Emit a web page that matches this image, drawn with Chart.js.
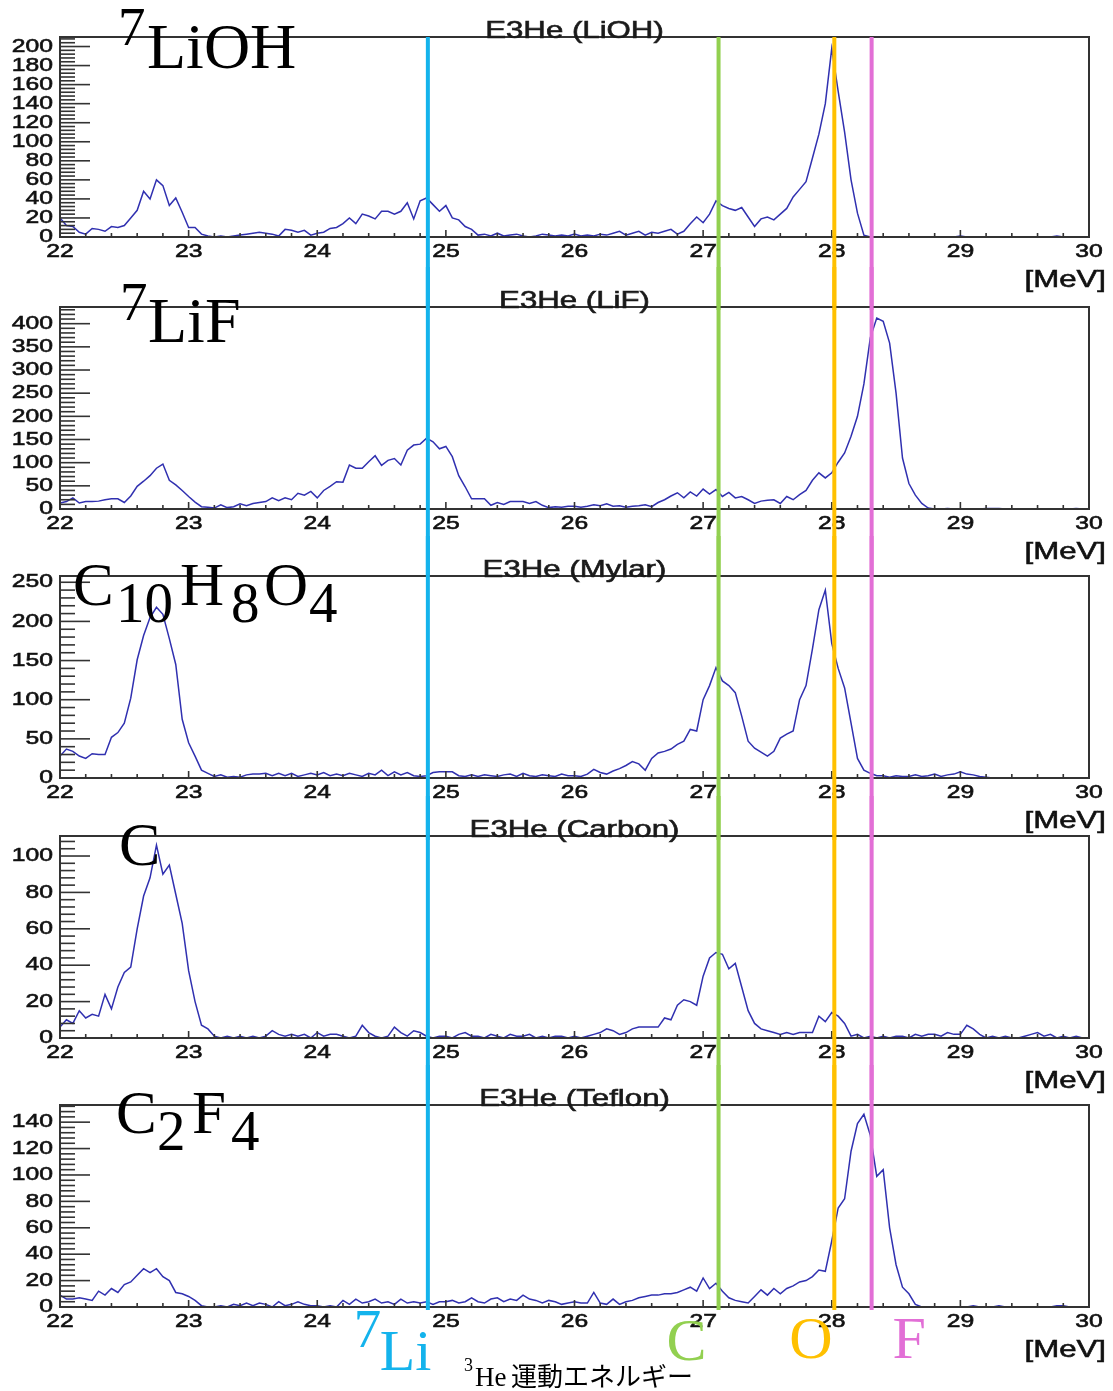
<!DOCTYPE html>
<html>
<head>
<meta charset="utf-8">
<title>E3He spectra</title>
<script src="https://cdn.jsdelivr.net/npm/chart.js@4.4.1/dist/chart.umd.min.js"></script>
<style>
  body { margin: 0; background: #fff; width: 1113px; height: 1391px; position: relative; overflow: hidden; }
  .panel { position: absolute; left: 0; width: 1113px; }
  canvas { display: block; }
</style>
</head>
<body>
<div class="panel" style="top:0px"><canvas id="p0" width="1113" height="310"></canvas></div>
<div class="panel" style="top:267px"><canvas id="p1" width="1113" height="310"></canvas></div>
<div class="panel" style="top:536px"><canvas id="p2" width="1113" height="304"></canvas></div>
<div class="panel" style="top:796px"><canvas id="p3" width="1113" height="304"></canvas></div>
<div class="panel" style="top:1065px"><canvas id="p4" width="1113" height="326"></canvas></div>
<script>
// histogram bins, 0.05 MeV wide, 22 - 30 MeV
const binWidth = 0.05;
const energies = Array.from({ length: 161 }, (_, i) => +(22 + i * binWidth).toFixed(2));

const countsLiOH = [
  20, 12, 11, 5, 3, 9, 8, 6, 11, 10, 12, 20, 28, 48, 40, 60, 54, 33, 41, 26,
  10, 10, 3, 1, 0, 1, 0, 1, 2, 3, 4, 5, 4, 3, 1, 8, 7, 5, 7, 2,
  4, 5, 9, 10, 14, 20, 14, 24, 22, 19, 27, 27, 24, 27, 36, 19, 38, 41, 34, 27,
  33, 20, 18, 11, 8, 2, 3, 1, 4, 1, 2, 3, 1, 0, 1, 3, 2, 1, 2, 1,
  3, 1, 2, 1, 3, 2, 4, 6, 2, 4, 6, 2, 5, 4, 6, 8, 3, 6, 14, 21,
  15, 24, 38, 33, 30, 28, 31, 21, 11, 19, 21, 18, 24, 30, 42, 50, 58, 83, 108, 140,
  198, 153, 110, 60, 25, 2, 0, 0, 0, 0, 0, 0, 0, 0, 0, 0, 0, 0, 0, 0,
  1, 0, 0, 0, 0, 0, 0, 0, 0, 0, 0, 0, 0, 0, 0, 1, 0, 0, 0, 0,
  0
];
const countsLiF = [
  13, 16, 24, 13, 16, 16, 17, 20, 22, 22, 14, 28, 49, 60, 72, 88, 97, 62, 52, 40,
  27, 15, 5, 4, 2, 9, 3, 5, 11, 7, 12, 14, 16, 24, 18, 24, 20, 34, 30, 38,
  24, 40, 49, 59, 58, 95, 88, 88, 102, 115, 94, 105, 109, 95, 127, 138, 140, 153, 145, 130,
  135, 113, 72, 48, 22, 22, 22, 8, 14, 10, 16, 16, 16, 12, 16, 8, 3, 5, 4, 6,
  6, 4, 6, 9, 7, 11, 6, 7, 4, 6, 7, 9, 5, 14, 20, 28, 35, 24, 37, 28,
  43, 32, 42, 27, 36, 24, 27, 20, 12, 17, 19, 20, 12, 27, 20, 31, 40, 62, 78, 67,
  78, 101, 121, 157, 200, 270, 370, 412, 405, 358, 250, 110, 55, 30, 12, 2, 0, 0, 1, 0,
  0, 0, 0, 0, 1, 1, 1, 0, 0, 0, 0, 0, 0, 0, 0, 0, 0, 0, 1, 0,
  0
];
const countsMylar = [
  28, 37, 34, 28, 25, 31, 30, 30, 52, 58, 70, 102, 151, 182, 205, 218, 209, 178, 145, 75,
  45, 28, 10, 6, 2, 4, 1, 2, 1, 4, 5, 5, 6, 3, 6, 3, 6, 2, 4, 6,
  4, 7, 3, 5, 3, 6, 4, 2, 6, 4, 10, 3, 8, 4, 7, 3, 2, 3, 7, 8,
  8, 8, 3, 2, 4, 2, 4, 3, 2, 4, 5, 2, 6, 3, 2, 4, 3, 2, 5, 3,
  3, 2, 5, 11, 7, 5, 9, 12, 16, 21, 18, 10, 25, 32, 34, 37, 43, 47, 62, 60,
  100, 118, 141, 124, 118, 109, 79, 47, 38, 33, 28, 34, 51, 56, 60, 100, 118, 165, 215, 240,
  172, 140, 115, 70, 25, 10, 6, 3, 3, 1, 3, 2, 2, 4, 2, 3, 5, 2, 4, 5,
  8, 5, 4, 2, 1, 0, 0, 0, 0, 0, 0, 0, 0, 0, 0, 0, 0, 0, 0, 0,
  0
];
const countsCarbon = [
  6, 10, 8, 15, 11, 13, 12, 24, 16, 28, 36, 39, 60, 78, 88, 106, 90, 95, 79, 63,
  37, 20, 7, 5, 1, 0, 1, 0, 1, 0, 1, 0, 1, 4, 2, 1, 2, 1, 2, 0,
  3, 1, 2, 2, 1, 0, 1, 7, 3, 1, 0, 1, 6, 3, 1, 4, 3, 1, 0, 1,
  1, 0, 2, 3, 1, 1, 0, 2, 1, 0, 2, 1, 1, 2, 0, 1, 0, 1, 1, 0,
  1, 0, 1, 2, 3, 5, 4, 2, 3, 5, 6, 6, 6, 6, 11, 10, 18, 21, 20, 18,
  34, 44, 47, 46, 38, 41, 28, 15, 8, 5, 4, 3, 2, 3, 2, 3, 3, 3, 12, 9,
  14, 12, 8, 1, 2, 0, 1, 0, 1, 0, 1, 1, 0, 2, 1, 2, 2, 1, 3, 2,
  2, 7, 5, 2, 0, 1, 0, 1, 0, 0, 1, 2, 3, 1, 2, 0, 1, 0, 1, 0,
  0
];
const countsTeflon = [
  9, 6, 6, 7, 6, 5, 12, 9, 14, 11, 17, 19, 24, 29, 26, 29, 23, 20, 11, 10,
  8, 5, 1, 0, 0, 1, 0, 2, 1, 3, 1, 3, 2, 0, 4, 1, 2, 4, 2, 1,
  1, 0, 1, 0, 5, 2, 6, 3, 4, 6, 3, 4, 2, 6, 3, 4, 3, 4, 2, 4,
  4, 5, 3, 4, 7, 4, 3, 6, 7, 4, 6, 5, 9, 6, 5, 3, 5, 4, 2, 3,
  4, 3, 3, 11, 3, 2, 6, 2, 4, 5, 7, 8, 9, 9, 10, 10, 11, 13, 15, 12,
  22, 14, 18, 12, 7, 5, 4, 3, 8, 13, 9, 14, 10, 14, 16, 19, 20, 23, 28, 27,
  50, 75, 82, 118, 139, 146, 130, 99, 104, 60, 32, 15, 10, 2, 0, 0, 0, 0, 0, 0,
  0, 0, 1, 0, 0, 0, 1, 0, 0, 0, 0, 0, 0, 0, 0, 1, 1, 0, 0, 0,
  0
];

const xTicks = [22, 23, 24, 25, 26, 27, 28, 29, 30];
const yTicksLiOH = [0, 20, 40, 60, 80, 100, 120, 140, 160, 180, 200];
const yTicksLiF = [0, 50, 100, 150, 200, 250, 300, 350, 400];
const yTicksMylar = [0, 50, 100, 150, 200, 250];
const yTicksCarbon = [0, 20, 40, 60, 80, 100];
const yTicksTeflon = [0, 20, 40, 60, 80, 100, 120, 140];

// reaction lines: 7Li, C, O, F
const lineEnergies = [24.86, 27.12, 28.02, 28.31];
const lineColors = ['#14b3ec', '#92d050', '#ffc000', '#e26fd6'];

const SERIF = '"Liberation Serif", "Times New Roman", serif';
const SANS = '"Liberation Sans", Arial, sans-serif';
const STRETCH = 1.3; // ROOT text is drawn wide

const panels = [
  { id: 'p0', name: 'LiOH', counts: countsLiOH, yTicks: yTicksLiOH, yMax: 210, padTop: 37, padBottom: 43,
    formula: [['7', 118, 8, 55], ['LiOH', 147, 31, 64]] },
  { id: 'p1', name: 'LiF', counts: countsLiF, yTicks: yTicksLiF, yMax: 436, padTop: 40, padBottom: 38,
    formula: [['7', 120, 13, 55], ['LiF', 148, 35, 64]] },
  { id: 'p2', name: 'Mylar', counts: countsMylar, yTicks: yTicksMylar, yMax: 258, padTop: 40, padBottom: 32,
    formula: [['C', 73, 29, 61], ['10', 116, 46, 57], ['H', 180, 29, 61], ['8', 231, 46, 57], ['O', 264, 29, 61], ['4', 309, 46, 57]] },
  { id: 'p3', name: 'Carbon', counts: countsCarbon, yTicks: yTicksCarbon, yMax: 111, padTop: 40, padBottom: 32,
    formula: [['C', 119, 29, 62]] },
  { id: 'p4', name: 'Teflon', counts: countsTeflon, yTicks: yTicksTeflon, yMax: 153, padTop: 40, padBottom: 54,
    formula: [['C', 116, 28, 61], ['2', 157, 45, 57], ['F', 192, 28, 61], ['4', 231, 45, 57]] }
];

function seg(ctx, x1, y1, x2, y2) {
  ctx.beginPath();
  ctx.moveTo(x1, y1);
  ctx.lineTo(x2, y2);
  ctx.stroke();
}

// sans text, widened and slightly heavier
function wideText(ctx, str, x, y, size, align, baseline, color) {
  ctx.save();
  ctx.font = size + 'px ' + SANS;
  ctx.textAlign = align;
  ctx.textBaseline = baseline;
  ctx.fillStyle = color;
  ctx.strokeStyle = color;
  ctx.lineWidth = 0.6;
  ctx.translate(x, y);
  ctx.scale(STRETCH, 1);
  ctx.fillText(str, 0, 0);
  ctx.strokeText(str, 0, 0);
  ctx.restore();
}

function serifText(ctx, str, x, y, size, color) {
  ctx.font = size + 'px ' + SERIF;
  ctx.fillStyle = color;
  ctx.textAlign = 'left';
  ctx.textBaseline = 'alphabetic';
  ctx.fillText(str, x, y);
}

function overlay(panel, idx) {
  return {
    id: 'overlay' + idx,
    afterDraw(chart) {
      const { ctx, chartArea: a, scales: { x, y } } = chart;
      ctx.save();

      // inner ticks on the x axis
      ctx.strokeStyle = '#333';
      ctx.lineWidth = 1.6;
      xTicks.forEach((v, k) => {
        const px = x.getPixelForValue(v);
        seg(ctx, px, a.bottom, px, a.bottom - 7);
        if (k < xTicks.length - 1) {
          const d = (xTicks[k + 1] - v) / 5;
          for (let m = 1; m < 5; m++) {
            const pm = x.getPixelForValue(v + m * d);
            seg(ctx, pm, a.bottom, pm, a.bottom - 4);
          }
        }
      });

      // inner ticks on the y axis, five divisions per label
      const minor = (panel.yTicks[1] - panel.yTicks[0]) / 5;
      const nMinor = Math.floor(panel.yMax / minor + 1e-6);
      for (let j = 0; j <= nMinor; j++) {
        const py = y.getPixelForValue(j * minor);
        seg(ctx, a.left, py, a.left + (j % 5 === 0 ? 30 : 15), py);
      }

      // frame
      ctx.lineWidth = 2;
      ctx.strokeRect(a.left, a.top, a.right - a.left, a.bottom - a.top);

      // tick labels
      panel.yTicks.forEach(v => wideText(ctx, String(v), a.left - 7, y.getPixelForValue(v), 19, 'right', 'middle', '#111'));
      xTicks.forEach(v => wideText(ctx, String(v), x.getPixelForValue(v), a.bottom + 5, 19, 'center', 'top', '#111'));

      // histogram title and unit
      wideText(ctx, 'E3He (' + panel.name + ')', (a.left + a.right) / 2, a.top + 1, 24, 'center', 'alphabetic', '#1a1a1a');
      wideText(ctx, '[MeV]', 1106, a.bottom + 50, 24, 'right', 'alphabetic', '#111');

      // target formula
      panel.formula.forEach(([t, fx, dy, size]) => serifText(ctx, t, fx, a.top + dy, size, '#000'));

      // reaction lines running through all panels
      const yFrom = idx === 0 ? a.top : 0;
      const yTo = idx === panels.length - 1 ? a.bottom + 3 : chart.height;
      ctx.lineWidth = 4;
      lineEnergies.forEach((e, k) => {
        const px = x.getPixelForValue(e);
        ctx.strokeStyle = lineColors[k];
        seg(ctx, px, yFrom, px, yTo);
      });

      if (idx === panels.length - 1) {
        const lx = lineEnergies.map(e => x.getPixelForValue(e));
        const b = a.bottom;
        serifText(ctx, '7', lx[0] - 74, b + 40, 55, lineColors[0]);
        serifText(ctx, 'Li', lx[0] - 48, b + 63, 58, lineColors[0]);
        serifText(ctx, 'C', lx[1] - 52, b + 53, 60, lineColors[1]);
        serifText(ctx, 'O', lx[2] - 45, b + 51, 60, lineColors[2]);
        serifText(ctx, 'F', lx[3] + 21, b + 51, 60, lineColors[3]);

        // axis caption
        serifText(ctx, '3', 464, b + 64, 18, '#000');
        serifText(ctx, 'He', 475, b + 79, 27, '#000');
        ctx.font = '26px "Noto Sans CJK JP", sans-serif';
        ctx.fillText('運動エネルギー', 511, b + 79);
      }
      ctx.restore();
    }
  };
}

panels.forEach((panel, idx) => {
  new Chart(document.getElementById(panel.id), {
    type: 'line',
    data: {
      datasets: [{
        data: energies.map((e, i) => ({ x: e, y: panel.counts[i] })),
        borderColor: '#3030b0',
        borderWidth: 1.5,
        pointRadius: 0,
        tension: 0,
        fill: false
      }]
    },
    options: {
      responsive: false,
      animation: false,
      devicePixelRatio: 1,
      layout: { padding: { left: 0, right: 24, top: panel.padTop, bottom: panel.padBottom } },
      plugins: { legend: { display: false }, tooltip: { enabled: false } },
      scales: {
        x: {
          type: 'linear', min: 22, max: 30,
          grid: { display: false, drawTicks: false },
          border: { display: false },
          ticks: { display: false },
          afterBuildTicks: s => { s.ticks = xTicks.map(v => ({ value: v })); },
          afterFit: s => { s.height = 30; }
        },
        y: {
          type: 'linear', min: 0, max: panel.yMax,
          grid: { display: false, drawTicks: false },
          border: { display: false },
          ticks: { display: false },
          afterBuildTicks: s => { s.ticks = panel.yTicks.map(v => ({ value: v })); },
          afterFit: s => { s.width = 60; }
        }
      }
    },
    plugins: [overlay(panel, idx)]
  });
});
</script>
</body>
</html>
